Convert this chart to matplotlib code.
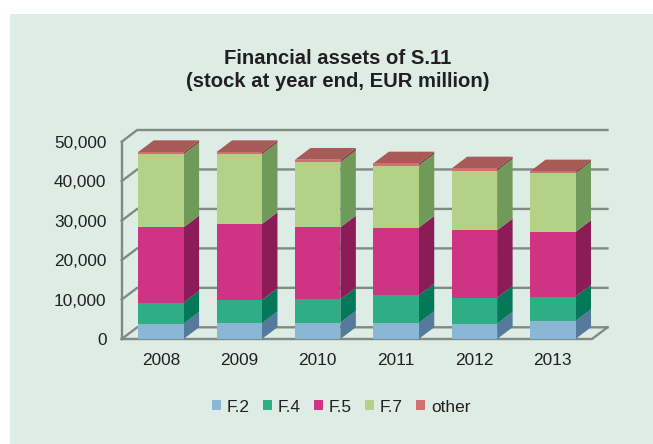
import matplotlib
matplotlib.use("Agg")
import matplotlib.pyplot as plt
from matplotlib.patches import Polygon, Rectangle

years = ["2008", "2009", "2010", "2011", "2012", "2013"]
series_names = ["F.2", "F.4", "F.5", "F.7", "other"]
f2 = [3885, 3970, 4140, 4050, 3885, 4560]
f4 = [5320, 5910, 5910, 7010, 6590, 6170]
f5 = [19090, 19260, 18240, 17150, 17060, 16390]
f7 = [18500, 17650, 16470, 15710, 15120, 14860]
other = [590, 590, 680, 590, 590, 510]
series = [f2, f4, f5, f7, other]
ticks = [0, 10000, 20000, 30000, 40000, 50000]

front = ["#8ab8d4", "#2fae85", "#cf3384", "#b3d285", "#d07070"]
side = ["#557a9b", "#06785a", "#8c1c58", "#6f9a5a", "#8a4545"]
top_col = "#a85a58"
panel = "#ddece5"
grid = "#7f8a85"
txt = "#231f20"

W, H = 653, 444
plt.rcParams["font.family"] = ["Liberation Sans", "DejaVu Sans"]
fig = plt.figure(figsize=(W / 100, H / 100), dpi=100, facecolor="white")
fig.add_artist(Rectangle((10 / W, 0), 643 / W, 430 / H, transform=fig.transFigure,
                         facecolor=panel, edgecolor="none", zorder=-5))
L, R, T, B = 121.7, 592.0, 141.7, 339.0
ax = fig.add_axes([L / W, 1 - B / H, (R - L) / W, (B - T) / H])
ax.patch.set_alpha(0)
ax.set_xlim(-0.5, 5.5)
ax.set_ylim(0, 50000)
for s in ax.spines.values():
    s.set_visible(False)

dx = 15.5 * 6 / (R - L)
dy = 11.7 * 50000 / (B - T)
bw = 0.579
x0, x1 = -0.5, 5.5
glw = 1.7

# walls and floor
for t in ticks:
    ax.plot([x0, x0 + dx, x1 + dx], [t, t + dy, t + dy], color=grid, lw=glw, zorder=1,
            clip_on=False, solid_joinstyle="miter")
ax.plot([x0, x0], [0, 50000], color=grid, lw=glw, zorder=1, clip_on=False)
ax.plot([x0, x1, x1 + dx], [0, 0, dy], color=grid, lw=glw, zorder=1, clip_on=False,
        solid_joinstyle="miter")

# stacked bars
for i in range(len(years)):
    b = 0
    for k, vals in enumerate(series):
        t = b + vals[i]
        xl, xr = i - bw / 2, i + bw / 2
        ax.add_patch(Polygon([(xr, b), (xr + dx, b + dy), (xr + dx, t + dy), (xr, t)],
                             facecolor=side[k], edgecolor="none", zorder=3, clip_on=False))
        ax.add_patch(Rectangle((xl, b), bw, vals[i], facecolor=front[k], edgecolor="none",
                               zorder=4, clip_on=False))
        b = t
    ax.add_patch(Polygon([(xl, b), (xr, b), (xr + dx, b + dy), (xl + dx, b + dy)],
                         facecolor=top_col, edgecolor="none", zorder=3, clip_on=False))

ax.set_xticks(range(len(years)), years)
ax.set_yticks(ticks, [f"{t:,}" for t in ticks])
ax.tick_params(axis="both", length=0, labelsize=12.4, labelcolor=txt)
ax.tick_params(axis="x", pad=10)
ax.tick_params(axis="y", pad=11)

fig.text(337.5 / W, 1 - 70 / H, "Financial assets of S.11\n(stock at year end, EUR million)",
         ha="center", va="center", fontsize=14.6, fontweight="bold", color=txt, linespacing=1.32)

handles = [Rectangle((0, 0), 1, 1, facecolor=c, edgecolor="none") for c in front]
fig.legend(handles, series_names, loc="center", bbox_to_anchor=(341 / W, 1 - 407 / H), ncol=5,
           frameon=False, fontsize=12.4, labelcolor=txt, handlelength=0.53, handleheight=0.53,
           handletextpad=0.35, columnspacing=0.75)

fig.savefig("out.png", dpi=100, facecolor="white")
